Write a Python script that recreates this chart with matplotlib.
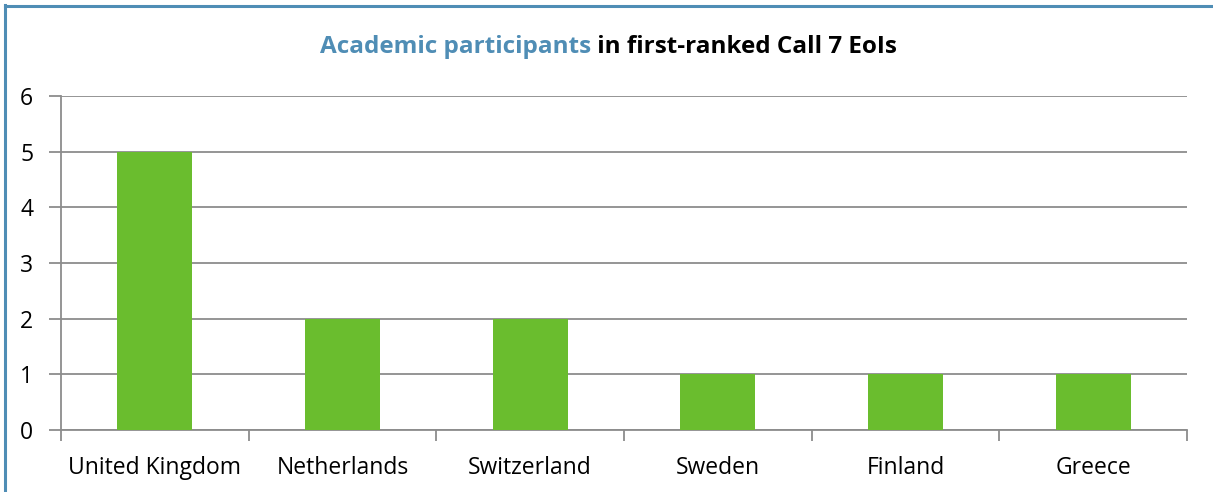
import matplotlib
matplotlib.use("Agg")
import matplotlib.pyplot as plt
from matplotlib.lines import Line2D

countries = ["United Kingdom", "Netherlands", "Switzerland", "Sweden", "Finland", "Greece"]
participants = [5, 2, 2, 1, 1, 1]
y_ticks = [0, 1, 2, 3, 4, 5, 6]

title_highlight = "Academic participants"
title_rest = " in first-ranked Call 7 EoIs"

plt.rcParams["font.family"] = ["Open Sans", "DejaVu Sans"]

W, H = 1213, 492
fig = plt.figure(figsize=(W / 100, H / 100), dpi=100)

# outer frame (top and left edges visible)
frame_color = "#4f8db5"
fig.add_artist(Line2D([5 / W, 5 / W], [0, 1 - 5 / H], color=frame_color, lw=2.2,
                      transform=fig.transFigure))
fig.add_artist(Line2D([5 / W, 1], [1 - 6 / H, 1 - 6 / H], color=frame_color, lw=2.2,
                      transform=fig.transFigure))

ax = fig.add_axes([61 / W, 1 - 430 / H, (1187 - 61) / W, (430 - 96) / H])

grid_color = "#8c8c8c"
x = list(range(len(countries)))
ax.bar(x, participants, width=0.4, color="#6abd2e", zorder=3)

ax.set_xlim(-0.5, len(countries) - 0.5)
ax.set_ylim(0, 6)
ax.set_yticks(y_ticks)
ax.set_yticklabels([str(v) for v in y_ticks], fontsize=16.5)
ax.yaxis.grid(True, color=grid_color, lw=1.3, zorder=0)
ax.tick_params(axis="y", length=9, width=1.3, color=grid_color, pad=11)

ax.set_xticks([i + 0.5 for i in range(-1, len(countries))])
ax.set_xticklabels([])
ax.set_xticks(x, minor=True)
ax.set_xticklabels(countries, minor=True, fontsize=16.5)
ax.tick_params(axis="x", which="major", length=8, width=1.3, color=grid_color)
ax.tick_params(axis="x", which="minor", length=0, pad=19)

for side in ["top", "right"]:
    ax.spines[side].set_visible(False)
for side in ["left", "bottom"]:
    ax.spines[side].set_color(grid_color)
    ax.spines[side].set_linewidth(1.3)

# two-colour title, centred as a whole
t1 = fig.text(0, 1 - 47 / H, title_highlight, fontsize=17.5, fontweight="bold",
              color="#4f8db5", va="center", ha="left")
t2 = fig.text(0, 1 - 47 / H, title_rest, fontsize=17.5, fontweight="bold",
              color="black", va="center", ha="left")
fig.canvas.draw()
r = fig.canvas.get_renderer()
w1 = t1.get_window_extent(r).width
w2 = t2.get_window_extent(r).width
start = 608 - (w1 + w2) / 2
t1.set_x(start / W)
t2.set_x((start + w1) / W)

fig.savefig("out.png", dpi=100, facecolor="white")
